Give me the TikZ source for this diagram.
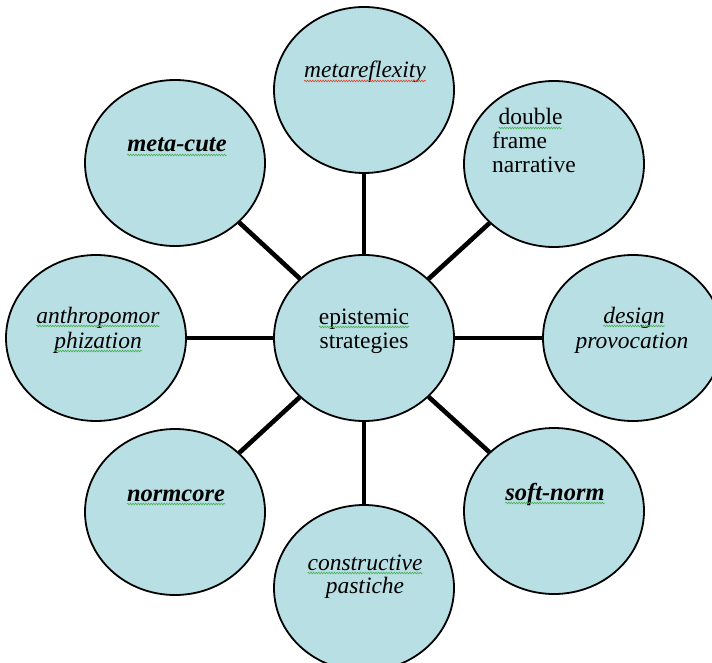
\documentclass[tikz,border=0pt]{standalone}
\usepackage{fontspec}
\setmainfont{Liberation Serif}
\usetikzlibrary{shapes.geometric,decorations.pathmorphing}
\definecolor{bubble}{RGB}{184,223,227}
\definecolor{spellgreen}{RGB}{70,175,80}
\definecolor{spellred}{RGB}{225,70,45}
\newcommand\wavy[2]{\tikz[baseline=(w.base)]{\node[inner sep=0pt,outer sep=0pt,draw=none,fill=none,rectangle,minimum size=0pt,anchor=base](w){#2};\draw[#1,line width=0.6pt,decorate,decoration={snake,amplitude=0.8pt,segment length=2.6pt}]([yshift=-3pt]w.base west)--([yshift=-3pt]w.base east);}}
\tikzset{
  bubblenode/.style={ellipse,draw=black,line width=1.8pt,fill=bubble,minimum width=180pt,minimum height=166pt,inner sep=0pt},
  spoke/.style={line width=4.6pt,black},
  lbl/.style={inner sep=0pt,anchor=base,font=\fontsize{23.5}{25}\selectfont},
  lblit/.style={lbl,font=\fontsize{23.5}{25}\selectfont\itshape},
  lblbi/.style={lbl,font=\fontsize{24.5}{25}\selectfont\bfseries\itshape}
}
\begin{document}
\begin{tikzpicture}[x=1pt,y=-1pt]
\fill[white] (0,0) rectangle (712,663);
\useasboundingbox (0,0) rectangle (712,663);
\clip (0,0) rectangle (712,663);
% bubbles
\node[bubblenode] (c)  at (364,338) {};
\node[bubblenode] (n)  at (364,90)  {};
\node[bubblenode] (ne) at (554,164) {};
\node[bubblenode] (e)  at (633,338) {};
\node[bubblenode] (se) at (554,511) {};
\node[bubblenode] (s)  at (364,588) {};
\node[bubblenode] (sw) at (175,512) {};
\node[bubblenode] (w)  at (96,338)  {};
\node[bubblenode] (nw) at (175,163) {};
% spokes
\foreach \t in {n,ne,e,se,s,sw,w,nw} \draw[spoke] (c) -- (\t);
% labels
\node[lblit] (tn) at (365,78) {\wavy{spellred}{metareflexity}};
\node[lbl,anchor=base west] (tne1) at (498,125) {\wavy{spellgreen}{double}};
\node[lbl,anchor=base west] (tne2) at (492,149) {frame};
\node[lbl,anchor=base west] (tne3) at (492,173) {narrative};
\node[lblbi] (tnw) at (177,152) {\wavy{spellgreen}{meta-cute}};
\node[lblit] (tw1) at (98,323) {\wavy{spellgreen}{anthropomor}};
\node[lblit] (tw2) at (98,348) {\wavy{spellgreen}{phization}};
\node[lbl] (tc1) at (364,324) {\wavy{spellgreen}{epistemic}};
\node[lbl] (tc2) at (364,348) {strategies};
\node[lblit] (te1) at (634,323) {\wavy{spellgreen}{design}};
\node[lblit] (te2) at (632,348) {provocation};
\node[lblbi] (tsw) at (176,501) {\wavy{spellgreen}{normcore}};
\node[lblbi] (tse) at (555,500) {\wavy{spellgreen}{soft-norm}};
\node[lblit] (ts1) at (365,570) {\wavy{spellgreen}{constructive}};
\node[lblit] (ts2) at (365,593) {pastiche};
\end{tikzpicture}
\end{document}
